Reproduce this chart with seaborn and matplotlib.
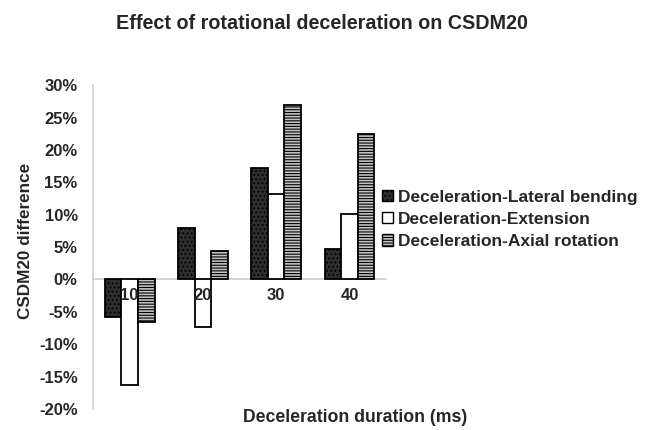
import matplotlib
matplotlib.use("Agg")
import matplotlib.pyplot as plt
import seaborn as sns
import pandas as pd
from matplotlib.ticker import FuncFormatter

durations = ["10", "20", "30", "40"]
series = ["Deceleration-Lateral bending", "Deceleration-Extension", "Deceleration-Axial rotation"]
lateral_bending = [-5.8, 7.9, 17.2, 4.7]
extension = [-16.3, -7.4, 13.2, 10.1]
axial_rotation = [-6.6, 4.4, 26.9, 22.5]

rows = []
for name, vals in zip(series, [lateral_bending, extension, axial_rotation]):
    for d, v in zip(durations, vals):
        rows.append({"duration": d, "series": name, "value": v})
df = pd.DataFrame(rows)

sns.set_theme(style="white")
plt.rcParams["font.family"] = ["Liberation Sans", "DejaVu Sans"]
plt.rcParams["font.weight"] = "bold"
plt.rcParams["hatch.linewidth"] = 0.8

fig = plt.figure(figsize=(6.5, 4.3), dpi=100)
ax = fig.add_axes([0.143, 0.049, 0.451, 0.753])

sns.barplot(data=df, x="duration", y="value", hue="series", order=durations,
            hue_order=series, palette=["#2b2b2b", "white", "#bdbdbd"],
            width=0.68, gap=0, ax=ax, legend=True, saturation=1)

styles = [dict(hatch="....", edgecolor="black", facecolor="#2e2e2e"),
          dict(hatch="", edgecolor="black", facecolor="white"),
          dict(hatch="------", edgecolor="black", facecolor="#c4c4c4")]
for cont, st in zip(ax.containers, styles):
    for bar in cont:
        bar.set_facecolor(st["facecolor"])
        bar.set_edgecolor(st["edgecolor"])
        bar.set_hatch(st["hatch"])
        bar.set_linewidth(1.3)
        bar.set_zorder(2)

ax.set_ylim(-20, 30)
ax.set_yticks(range(-20, 31, 5))
ax.yaxis.set_major_formatter(FuncFormatter(lambda v, p: f"{int(v)}%"))
ax.tick_params(axis="y", length=0, labelsize=12, pad=11)
ax.tick_params(axis="x", length=0, labelsize=12, pad=6)
for lab in ax.get_yticklabels() + ax.get_xticklabels():
    lab.set_fontweight("bold")
ax.xaxis.set_zorder(5)

for s in ["top", "right"]:
    ax.spines[s].set_visible(False)
ax.spines["left"].set_color("#d0d0d0")
ax.spines["bottom"].set_position(("data", 0))
ax.spines["bottom"].set_color("#d0d0d0")
ax.spines["bottom"].set_zorder(1)

ax.set_xlabel("")
ax.set_ylabel("CSDM20 difference", fontsize=12.3, fontweight="bold")
ax.yaxis.set_label_coords(-0.205, 0.52)
fig.text(0.546, 0.028, "Deceleration duration (ms)", ha="center", va="center",
         fontsize=12.7, fontweight="bold")
fig.text(0.495, 0.946, "Effect of rotational deceleration on CSDM20", ha="center",
         va="center", fontsize=14.2, fontweight="bold")

handles, labels = ax.get_legend_handles_labels()
leg = ax.legend(handles, labels, loc="center left", bbox_to_anchor=(0.588, 0.49),
                bbox_transform=fig.transFigure, frameon=False,
                handlelength=0.65, handleheight=0.65, handletextpad=0.25,
                labelspacing=0.42, borderaxespad=0, borderpad=0,
                prop={"weight": "bold", "size": 12.5})
for h, st in zip(leg.legend_handles, styles):
    h.set_facecolor(st["facecolor"])
    h.set_edgecolor("black")
    h.set_hatch(st["hatch"])
    h.set_linewidth(1.0)

fig.savefig("out.png", dpi=100)
